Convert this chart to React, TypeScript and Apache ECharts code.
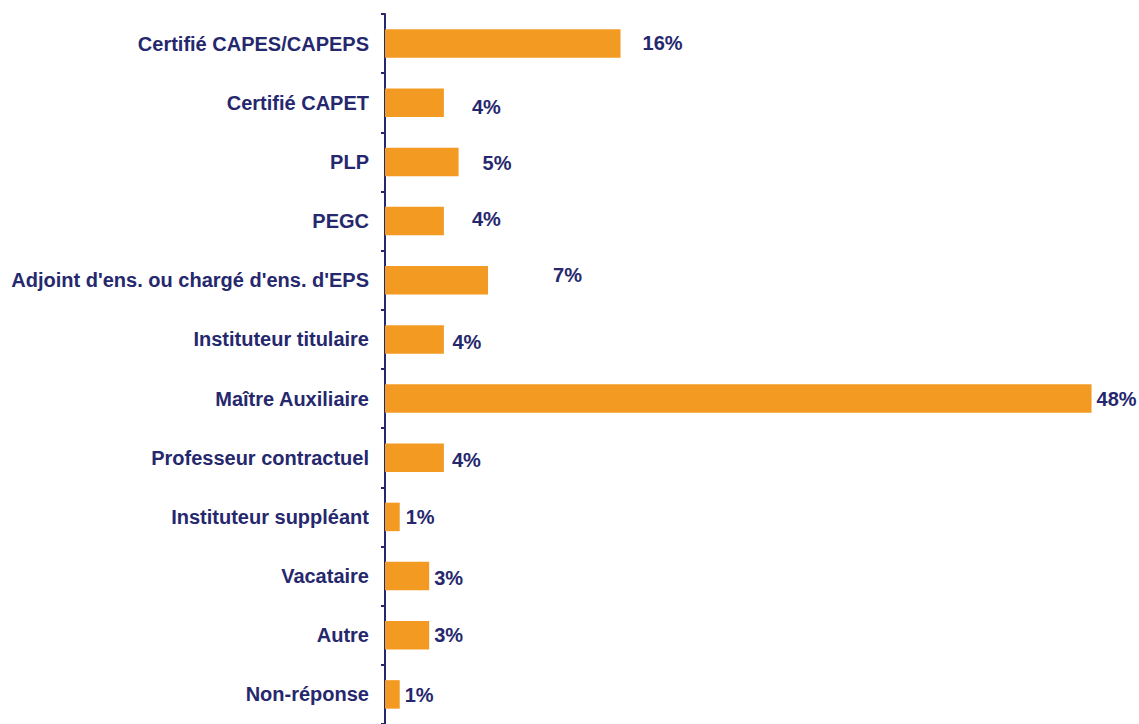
import React, { useEffect, useRef } from "react";
import * as echarts from "echarts";

const categories = [
  "Certifié CAPES/CAPEPS",
  "Certifié CAPET",
  "PLP",
  "PEGC",
  "Adjoint d'ens. ou chargé d'ens. d'EPS",
  "Instituteur titulaire",
  "Maître Auxiliaire",
  "Professeur contractuel",
  "Instituteur suppléant",
  "Vacataire",
  "Autre",
  "Non-réponse",
];

const percentValues = [16, 4, 5, 4, 7, 4, 48, 4, 1, 3, 3, 1];

// label placement tweaks (x, y) to mimic the reference's hand-placed labels
const labelOffsets: [number, number][] = [
  [17, -0.5],
  [23, 4],
  [19, 1.5],
  [23, -2],
  [60, -5],
  [3.5, 2.5],
  [0, 0],
  [3, 2],
  [1, 0],
  [0, 1.5],
  [0, 0],
  [0, 1],
];

const NAVY = "#26286E";
const ORANGE = "#F39A22";
const FONT = "'Liberation Sans', Arial, Helvetica, sans-serif";

export default function App() {
  const ref = useRef<HTMLDivElement>(null);

  useEffect(() => {
    if (!ref.current) return;
    const chart = echarts.init(ref.current, null, { renderer: "svg" });
    chart.setOption({
      animation: false,
      backgroundColor: "#ffffff",
      grid: { left: 385, width: 736, top: 14, height: 715, containLabel: false },
      xAxis: {
        type: "value",
        min: 0,
        max: 50,
        show: false,
        splitLine: { show: false },
      },
      yAxis: {
        type: "category",
        inverse: true,
        data: categories,
        axisLine: { show: true, lineStyle: { color: NAVY, width: 2 } },
        axisTick: { show: true, length: 4, lineStyle: { color: NAVY, width: 2 } },
        axisLabel: {
          margin: 16,
          color: NAVY,
          fontFamily: FONT,
          fontWeight: "bold",
          fontSize: 20,
        },
        splitLine: { show: false },
      },
      series: [
        {
          type: "bar",
          barWidth: 28.5,
          itemStyle: { color: ORANGE },
          data: percentValues.map((v, i) => ({
            value: v,
            label: { offset: labelOffsets[i] },
          })),
          label: {
            show: true,
            position: "right",
            distance: 5,
            color: NAVY,
            fontFamily: FONT,
            fontWeight: "bold",
            fontSize: 20,
            formatter: (p: any) => `${p.value}%`,
          },
        },
      ],
    });
    return () => chart.dispose();
  }, []);

  return (
    <div
      ref={ref}
      style={{ position: "absolute", left: 0, top: 0, width: 1139, height: 724 }}
    />
  );
}
